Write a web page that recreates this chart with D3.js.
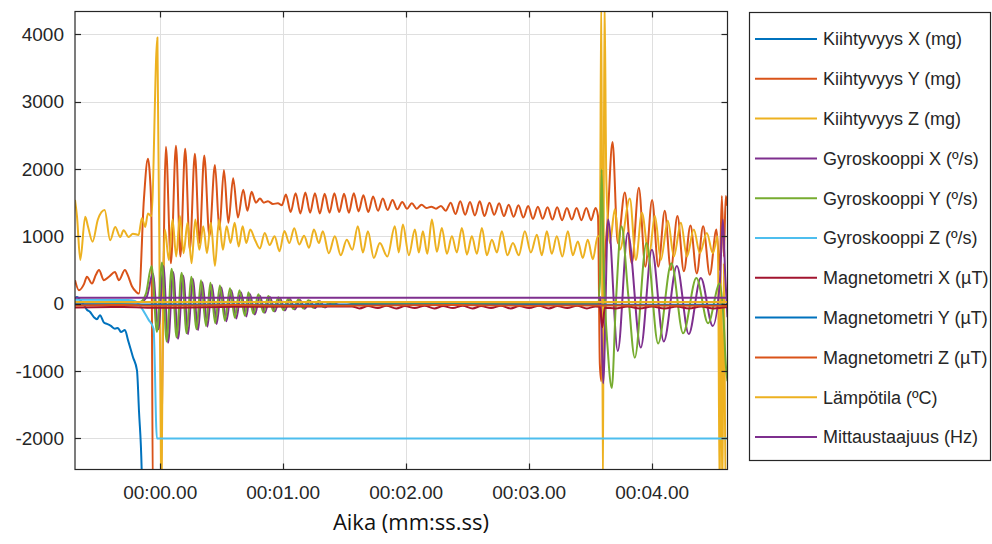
<!DOCTYPE html>
<html>
<head>
<meta charset="utf-8">
<script src="https://cdn.jsdelivr.net/npm/d3@7/dist/d3.min.js"></script>
<style>
  body { margin: 0; background: #fff; }
  svg { display: block; }
  text { fill: #262626; font-family: "Liberation Sans", Arial, sans-serif; }
</style>
</head>
<body>
<div id="chart"></div>
<script>
// time in ms relative to 00:00.00, value in the sensor's own unit
const seriesNames = ["Kiihtyvyys X (mg)", "Kiihtyvyys Y (mg)", "Kiihtyvyys Z (mg)",
  "Gyroskooppi X (º/s)", "Gyroskooppi Y (º/s)", "Gyroskooppi Z (º/s)",
  "Magnetometri X (µT)", "Magnetometri Y (µT)", "Magnetometri Z (µT)",
  "Lämpötila (ºC)", "Mittaustaajuus (Hz)"];
const seriesColors = ["#0072BD", "#D95319", "#EDB120", "#7E2F8E", "#77AC30", "#4DBEEE",
  "#A2142F", "#0072BD", "#D95319", "#EDB120", "#7E2F8E"];
const xTicks = [0, 1000, 2000, 3000, 4000];
const yTicks = [-2000, -1000, 0, 1000, 2000, 3000, 4000];

const accX = [[-693,80],[-677,100],[-653,60],[-620,-20],[-596,-90],[-572,-120],[-539,-200],[-515,-230],
  [-490,-170],[-458,-280],[-433,-300],[-401,-330],[-368,-370],[-344,-360],[-319,-420],[-287,-390],
  [-262,-540],[-222,-790],[-189,-990],[-173,-1580],[-149,-2600],[-124,-16000],[4613,-16000]];

const accY = [[-693,350],[-661,200],[-620,290],[-596,400],[-555,300],[-523,430],[-498,500],[-458,350],
  [-417,400],[-368,470],[-336,350],[-287,500],[-263,420],[-230,260],[-198,180],[-173,150],[-133,1540],
  [-100,2150],[-84,1900],[-72,1350],[-59,-3000],[-27,-3000],[-2,-3000],[46,2330],[87,600],[128,2345],
  [164,700],[203,2300],[241,800],[282,2225],[319,900],[358,2200],[400,1000],[445,2060],[481,1100],
  [518,1985],[554,1200],[593,1860],[632,1280],[675,1690],[709,1380],[743,1660],[778,1500],[811,1560],
  [843,1500],[876,1520],[916,1480],[957,1490],[989,1460],
  [1022,1620],[1061,1360],[1101,1640],[1140,1340],[1180,1650],[1219,1350],[1258,1640],[1298,1340],
  [1337,1630],[1377,1350],[1416,1640],[1455,1360],[1495,1630],[1534,1350],[1574,1640],[1613,1370],
  [1652,1610],[1692,1360],[1731,1590],[1771,1380],[1810,1560],[1849,1390],[1889,1540],[1928,1400],
  [1968,1510],[2007,1410],[2046,1490],[2086,1410],[2125,1470],[2165,1420],[2204,1440],[2243,1410],
  [2283,1450],[2322,1380],[2362,1500],[2401,1330],[2440,1520],[2480,1320],[2519,1510],[2559,1310],
  [2598,1520],[2637,1300],[2677,1500],[2716,1320],[2756,1490],[2795,1300],[2834,1470],[2874,1290],
  [2913,1460],[2953,1280],[2992,1450],[3031,1260],[3071,1440],[3110,1260],[3150,1430],[3189,1250],
  [3228,1430],[3268,1240],[3307,1420],[3347,1250],[3386,1420],[3425,1240],[3465,1420],[3504,1240],
  [3540,1420],[3560,1300],
  [3575,-900],[3587,-1150],[3607,300],[3640,1300],[3678,2400],[3721,900],[3778,1650],[3835,600],
  [3892,1720],[3945,550],[4000,1540],[4050,550],[4103,1380],[4152,500],[4206,1300],[4258,480],
  [4312,1160],[4363,450],[4415,1150],[4469,430],[4523,1100],[4550,500],[4567,1600],[4583,700],
  [4599,1600],[4613,1450]];

const accZ = [[-693,1540],[-677,1300],[-650,650],[-610,1290],[-588,1150],[-550,920],[-507,1250],
  [-452,1390],[-407,940],[-366,1140],[-325,990],[-298,1090],[-257,990],[-222,1040],[-176,1020],
  [-149,1270],[-122,1140],[-100,1340],[-72,1300],[-23,3950],[2,-1500],[10,-3000],[23,200],[38,1100],
  [70,650],[100,1250],[130,700],[160,1300],[190,750],[222,1200],[255,600],[285,1250],[318,800],
  [350,1150],[380,750],[412,1200],[445,560],[478,1250],[510,800],[540,1150],[572,900],[605,1200],
  [638,850],[670,1150],[700,900],[732,1100],[770,950],[810,820],[850,1050],[890,870],[930,1000],
  [970,780],[1010,1080],[1050,900],[1090,1120],[1130,880],[1170,1010],[1210,830],[1250,1100],[1290,900],
  [1322,1075],[1371,750],[1420,1000],[1468,720],[1517,950],[1562,800],[1607,1150],[1648,760],
  [1689,1075],[1737,680],[1786,900],[1847,700],[1908,1150],[1940,760],[1973,1175],[2022,720],
  [2071,1100],[2103,760],[2136,1075],[2172,740],[2209,1250],[2250,770],[2290,1125],[2331,740],
  [2372,1000],[2412,760],[2453,1125],[2494,730],[2534,1000],[2575,740],[2616,1125],[2656,720],
  [2697,950],[2738,760],[2778,1075],[2823,720],[2868,900],[2916,720],[2965,1075],[3014,760],
  [3063,1025],[3103,720],[3144,1075],[3184,740],[3225,1000],[3270,700],[3315,1075],[3355,720],
  [3396,925],[3436,680],[3477,950],[3518,660],[3558,1000],
  [3575,1000],[3587,4600],[3600,-3000],[3612,4600],[3628,1800],[3656,900],[3697,1400],[3737,800],
  [3819,1560],[3868,650],[3917,1350],[3974,700],[4023,1300],[4071,650],[4128,1230],[4177,700],
  [4234,1200],[4283,700],[4339,1100],[4388,750],[4445,1050],[4493,750],[4534,1000],[4550,-3000],
  [4558,800],[4571,-3000],[4583,600],[4599,-3000],[4613,-3000]];

const gyroX = [[-693,15],[-165,20],[-110,100],[-60,450],[-15,-380],[26,560],[64,-580],[105,470],
  [145,-520],[186,420],[227,-450],[264,370],[308,-390],[343,320],[384,-340],[420,280],[459,-300],
  [497,240],[538,-260],[579,200],[619,-220],[656,170],[701,-190],[729,145],[770,-160],[810,120],
  [851,-135],[892,100],[932,-115],[973,85],[1014,-100],[1054,70],[1095,-85],[1136,55],[1176,-75],
  [1217,45],[1257,-65],[1298,35],[1339,-55],[1392,15],[1473,-30],[1636,5],[3560,10],[3580,100],
  [3602,-1180],[3642,1250],[3721,-700],[3802,1050],[3908,-650],[3998,800],[4095,-560],[4201,560],
  [4298,-450],[4396,380],[4493,-330],[4550,300],[4575,1250],[4595,400],[4613,-200]];

const gyroY = [[-693,20],[-328,15],[-165,25],[-116,150],[-70,560],[-27,-420],[14,610],[52,-560],
  [93,520],[133,-500],[174,460],[215,-440],[252,400],[296,-380],[331,350],[372,-330],[408,310],
  [447,-290],[485,270],[526,-250],[567,230],[607,-210],[644,200],[689,-180],[717,170],[758,-150],
  [798,140],[839,-130],[880,115],[920,-110],[961,95],[1002,-95],[1042,80],[1083,-80],[1124,65],
  [1164,-70],[1205,50],[1245,-60],[1286,40],[1327,-50],[1380,20],[1461,-30],[1624,10],[3558,15],
  [3575,300],[3589,1990],[3607,500],[3640,-700],[3672,-1250],[3705,0],[3751,1150],[3805,150],
  [3859,-800],[3954,900],[4049,-590],[4157,600],[4252,-440],[4360,380],[4455,-290],[4550,300],
  [4583,-300],[4599,-900],[4613,-1150]];

const gyroZ = [[-693,60],[-262,55],[-206,40],[-94,-240],[-54,-370],[-27,-2000],[4613,-2000]];

const magX = [[-693,-55],[-300,-50],[0,-60],[600,-45],[1200,-40],[1560,-40],[1620,-70],[1690,-35],
  [1770,-65],[1840,-30],[1920,-70],[1990,-35],[2070,-65],[2150,-30],[2230,-70],[2300,-35],[2380,-65],
  [2460,-30],[2540,-70],[2610,-35],[2690,-65],[2770,-30],[2850,-70],[2920,-35],[3000,-65],[3080,-30],
  [3160,-70],[3230,-35],[3310,-65],[3390,-30],[3470,-70],[3540,-40],[3575,-45],[3595,-350],[3615,-60],
  [3700,-70],[3800,-40],[3900,-70],[4000,-40],[4100,-70],[4200,-40],[4300,-70],[4400,-40],[4500,-70],
  [4613,-50]];
const magY = [[-693,-10],[1000,-15],[2000,-10],[3000,-15],[4613,-15]];
const magZ = [[-693,-25],[-300,-20],[0,-30],[600,-20],[1200,-30],[1800,-25],[2400,-20],[3000,-30],
  [3600,-25],[4613,-30]];
const temp = [[-693,25],[4613,25]];
const freq = [[-693,90],[4613,90]];

const allSeries = [accX, accY, accZ, gyroX, gyroY, gyroZ, magX, magY, magZ, temp, freq];

const W = 992, H = 544;
const plot = { left: 75, right: 727.5, top: 11.5, bottom: 469.5 };

const svg = d3.select("#chart").append("svg")
  .attr("width", W).attr("height", H);

const x = d3.scaleLinear().domain([-693, 4613]).range([plot.left, plot.right]);
const y = d3.scaleLinear().domain([-2460, 4336]).range([plot.bottom, plot.top]);

const fmtTime = ms => {
  const s = ms / 1000;
  const m = Math.floor(s / 60);
  return String(m).padStart(2, "0") + ":" + (s - m * 60).toFixed(2).padStart(5, "0");
};

// grid
const grid = svg.append("g").attr("stroke", "#dfdfdf").attr("stroke-width", 1);
xTicks.forEach(t => grid.append("line")
  .attr("x1", Math.round(x(t)) + 0.5).attr("x2", Math.round(x(t)) + 0.5)
  .attr("y1", plot.top).attr("y2", plot.bottom));
yTicks.forEach(v => grid.append("line")
  .attr("x1", plot.left).attr("x2", plot.right)
  .attr("y1", Math.round(y(v)) + 0.5).attr("y2", Math.round(y(v)) + 0.5));

svg.append("clipPath").attr("id", "clip")
  .append("rect")
    .attr("x", plot.left).attr("y", plot.top)
    .attr("width", plot.right - plot.left).attr("height", plot.bottom - plot.top);

const line = d3.line()
  .x(d => x(d[0]))
  .y(d => y(d[1]))
  .curve(d3.curveMonotoneX);

svg.append("g").attr("clip-path", "url(#clip)")
  .selectAll("path")
  .data(allSeries)
  .join("path")
    .attr("d", line)
    .attr("fill", "none")
    .attr("stroke", (d, i) => seriesColors[i])
    .attr("stroke-width", 2)
    .attr("stroke-linejoin", "round");

// axes box with inward ticks on every side
const axisColor = "#262626";
svg.append("rect")
  .attr("x", plot.left).attr("y", plot.top)
  .attr("width", plot.right - plot.left).attr("height", plot.bottom - plot.top)
  .attr("fill", "none").attr("stroke", axisColor).attr("stroke-width", 1.2);

const ticks = svg.append("g").attr("stroke", axisColor).attr("stroke-width", 1.2);
xTicks.forEach(t => {
  const px = Math.round(x(t)) + 0.5;
  ticks.append("line").attr("x1", px).attr("x2", px).attr("y1", plot.bottom).attr("y2", plot.bottom - 6);
  ticks.append("line").attr("x1", px).attr("x2", px).attr("y1", plot.top).attr("y2", plot.top + 6);
});
yTicks.forEach(v => {
  const py = Math.round(y(v)) + 0.5;
  ticks.append("line").attr("x1", plot.left).attr("x2", plot.left + 6).attr("y1", py).attr("y2", py);
  ticks.append("line").attr("x1", plot.right).attr("x2", plot.right - 6).attr("y1", py).attr("y2", py);
});

svg.append("g").selectAll("text")
  .data(xTicks)
  .join("text")
    .attr("x", d => x(d))
    .attr("y", 499)
    .attr("text-anchor", "middle")
    .style("font-size", "19px")
    .text(fmtTime);

svg.append("g").selectAll("text")
  .data(yTicks)
  .join("text")
    .attr("x", 64)
    .attr("y", d => y(d))
    .attr("dy", "0.35em")
    .attr("text-anchor", "end")
    .style("font-size", "19px")
    .text(d => d);

svg.append("text")
  .attr("x", 411)
  .attr("y", 530)
  .attr("text-anchor", "middle")
  .style("font-family", "'Open Sans', sans-serif")
  .style("font-size", "22px")
  .style("fill", "#111")
  .text("Aika (mm:ss.ss)");

// legend
const legend = svg.append("g");
legend.append("rect")
  .attr("x", 749.5).attr("y", 12.5)
  .attr("width", 241).attr("height", 448)
  .attr("fill", "#fff").attr("stroke", axisColor).attr("stroke-width", 1.2);

const item = legend.selectAll("g.item")
  .data(seriesNames)
  .join("g")
    .attr("class", "item")
    .attr("transform", (d, i) => `translate(0,${39 + i * 39.8})`);
item.append("line")
  .attr("x1", 755).attr("x2", 817)
  .attr("stroke", (d, i) => seriesColors[i])
  .attr("stroke-width", 2);
item.append("text")
  .attr("x", 823)
  .attr("dy", "0.35em")
  .style("font-size", "18px")
  .text(d => d);
</script>
</body>
</html>
